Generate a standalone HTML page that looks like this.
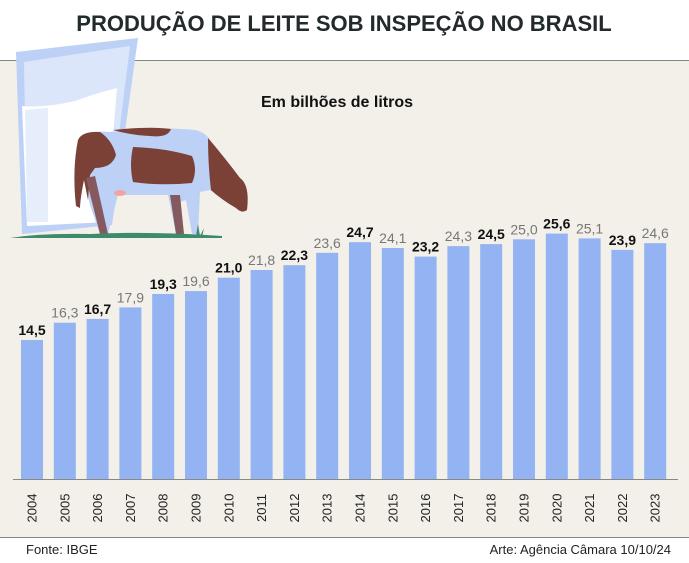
<!DOCTYPE html>
<html><head><meta charset="utf-8"><style>
html,body{margin:0;padding:0;background:#fff}
svg{display:block;font-family:"Liberation Sans","DejaVu Sans",sans-serif}
</style></head><body>
<svg width="689" height="563" viewBox="0 0 689 563" xmlns="http://www.w3.org/2000/svg">
<rect x="0" y="0" width="689" height="563" fill="#fff"/>
<rect x="0" y="60" width="689" height="477" fill="#f3f0e9"/>
<line x1="0" y1="60.5" x2="689" y2="60.5" stroke="#7f8787" stroke-width="1"/>
<line x1="0" y1="537.5" x2="689" y2="537.5" stroke="#7f8787" stroke-width="1"/>
<text x="344" y="31" text-anchor="middle" font-size="22" font-weight="bold" fill="#222a2c">PRODUÇÃO DE LEITE SOB INSPEÇÃO NO BRASIL</text>
<text x="337" y="107" text-anchor="middle" font-size="16" font-weight="bold" fill="#111">Em bilhões de litros</text>
<!-- glass -->
<path d="M16,52 L138,38 L112,225 L22,234 Z" fill="#bdd0f6"/>
<path d="M24,62 L130,46 L108,222 L27,226 Z" fill="#dbe6fa"/>
<path d="M22,106 Q45,108 75,101 Q100,92 117,88 L106,222 L27,226 Z" fill="#fff"/>
<path d="M25,110 L48,108 L48,222 L27,222 Z" fill="#e6eefc"/>
<!-- cow -->
<path d="M78,140 Q85,130 110,132 Q150,126 195,130 Q205,132 210,140 Q225,158 240,178 Q250,185 247,210 Q242,214 236,208 Q222,200 210,190 L200,192 L198,234 L192,234 L186,200 L180,202 L184,234 L176,234 L168,195 L118,195 L108,234 L100,234 L90,205 L84,178 Q80,200 80,208 L76,206 Q72,170 78,140 Z" fill="#bdd0f6"/>
<path d="M78,140 Q82,131 100,132 Q112,140 116,155 Q112,168 95,168 L90,175 L88,200 L84,180 Q80,200 80,208 L76,206 Q72,170 78,140 Z" fill="#7b4036"/>
<path d="M133,147 Q165,148 192,156 Q198,170 192,183 Q160,186 133,182 Q129,165 133,147 Z" fill="#7b4036"/>
<path d="M113,130 Q150,126 171,129 Q168,138 150,136 Q130,135 113,130 Z" fill="#7b4036"/>
<path d="M208,138 Q225,158 240,178 Q250,185 247,210 Q242,214 236,208 Q222,200 211,190 Q208,165 208,138 Z" fill="#7b4036"/>
<path d="M86,178 L95,176 L108,234 L100,234 Z" fill="#845a5e"/>
<path d="M170,195 L180,195 L184,234 L176,234 Z" fill="#845a5e"/>
<ellipse cx="120" cy="193" rx="6" ry="3" fill="#f4a3a3"/>
<path d="M10,238 Q40,233 90,234 Q150,231 222,236 L222,238 Z" fill="#3e8a6c"/>
<path d="M196,236 L198,224 L200,236 L204,228 L202,237 Z" fill="#3e8a6c"/>
<line x1="13" y1="479.5" x2="678" y2="479.5" stroke="#888" stroke-width="1"/>
<text x="26" y="554" font-size="13" fill="#222">Fonte: IBGE</text>
<text x="671" y="554" text-anchor="end" font-size="13" fill="#222">Arte: Agência Câmara 10/10/24</text>
<g fill="#93b3f3">
<rect x="21.0" y="340.0" width="22" height="139"/><rect x="53.8" y="322.7" width="22" height="156.3"/><rect x="86.6" y="318.9" width="22" height="160.1"/><rect x="119.4" y="307.4" width="22" height="171.6"/><rect x="152.2" y="294.0" width="22" height="185"/><rect x="185.0" y="291.1" width="22" height="187.9"/><rect x="217.8" y="277.7" width="22" height="201.3"/><rect x="250.6" y="270.0" width="22" height="209"/><rect x="283.4" y="265.2" width="22" height="213.8"/><rect x="316.2" y="252.8" width="22" height="226.2"/><rect x="349.0" y="242.2" width="22" height="236.8"/><rect x="381.8" y="248.0" width="22" height="231"/><rect x="414.6" y="256.6" width="22" height="222.4"/><rect x="447.4" y="246.1" width="22" height="232.9"/><rect x="480.2" y="244.1" width="22" height="234.9"/><rect x="513.0" y="239.3" width="22" height="239.7"/><rect x="545.8" y="233.6" width="22" height="245.4"/><rect x="578.6" y="238.4" width="22" height="240.6"/><rect x="611.4" y="249.9" width="22" height="229.1"/><rect x="644.2" y="243.2" width="22" height="235.8"/>
</g>
<g font-size="14" text-anchor="middle">
<text x="32.0" y="335.0" font-weight="bold" fill="#111">14,5</text>
<text x="64.8" y="317.7" fill="#777">16,3</text>
<text x="97.6" y="313.9" font-weight="bold" fill="#111">16,7</text>
<text x="130.4" y="302.4" fill="#777">17,9</text>
<text x="163.2" y="289.0" font-weight="bold" fill="#111">19,3</text>
<text x="196.0" y="286.1" fill="#777">19,6</text>
<text x="228.8" y="272.7" font-weight="bold" fill="#111">21,0</text>
<text x="261.6" y="265.0" fill="#777">21,8</text>
<text x="294.4" y="260.2" font-weight="bold" fill="#111">22,3</text>
<text x="327.2" y="247.8" fill="#777">23,6</text>
<text x="360.0" y="237.2" font-weight="bold" fill="#111">24,7</text>
<text x="392.8" y="243.0" fill="#777">24,1</text>
<text x="425.6" y="251.6" font-weight="bold" fill="#111">23,2</text>
<text x="458.4" y="241.1" fill="#777">24,3</text>
<text x="491.2" y="239.1" font-weight="bold" fill="#111">24,5</text>
<text x="524.0" y="234.3" fill="#777">25,0</text>
<text x="556.8" y="228.6" font-weight="bold" fill="#111">25,6</text>
<text x="589.6" y="233.4" fill="#777">25,1</text>
<text x="622.4" y="244.9" font-weight="bold" fill="#111">23,9</text>
<text x="655.2" y="238.2" fill="#777">24,6</text>
</g>
<g font-size="13" fill="#222" text-anchor="middle">
<text transform="translate(36.5,508) rotate(-90)">2004</text>
<text transform="translate(69.3,508) rotate(-90)">2005</text>
<text transform="translate(102.1,508) rotate(-90)">2006</text>
<text transform="translate(134.9,508) rotate(-90)">2007</text>
<text transform="translate(167.7,508) rotate(-90)">2008</text>
<text transform="translate(200.5,508) rotate(-90)">2009</text>
<text transform="translate(233.3,508) rotate(-90)">2010</text>
<text transform="translate(266.1,508) rotate(-90)">2011</text>
<text transform="translate(298.9,508) rotate(-90)">2012</text>
<text transform="translate(331.7,508) rotate(-90)">2013</text>
<text transform="translate(364.5,508) rotate(-90)">2014</text>
<text transform="translate(397.3,508) rotate(-90)">2015</text>
<text transform="translate(430.1,508) rotate(-90)">2016</text>
<text transform="translate(462.9,508) rotate(-90)">2017</text>
<text transform="translate(495.7,508) rotate(-90)">2018</text>
<text transform="translate(528.5,508) rotate(-90)">2019</text>
<text transform="translate(561.3,508) rotate(-90)">2020</text>
<text transform="translate(594.1,508) rotate(-90)">2021</text>
<text transform="translate(626.9,508) rotate(-90)">2022</text>
<text transform="translate(659.7,508) rotate(-90)">2023</text>
</g>
</svg>
</body></html>
